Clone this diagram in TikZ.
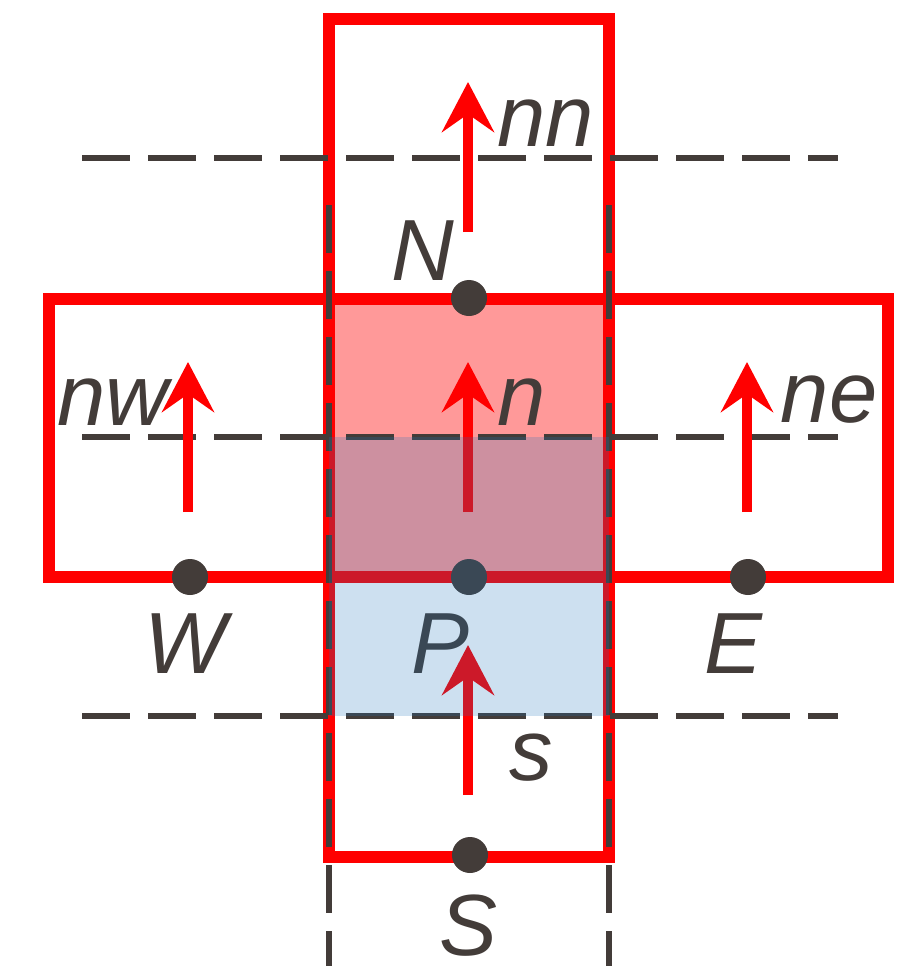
\documentclass[tikz,border=0pt]{standalone}
\usepackage{fontspec}
\setmainfont{Liberation Sans}
\usetikzlibrary{arrows.meta, positioning}

\definecolor{ink}{RGB}{67,60,57}
\definecolor{cellblue}{RGB}{27,116,187}

\begin{document}
\begin{tikzpicture}[
	x=0.01cm,
	y=-0.01cm,
	>={Stealth[length=0.5cm, width=0.52cm, inset=0.18cm]},
	line join=miter
]

\tikzstyle{cellbox} = [draw=red, line width=0.12cm];
\tikzstyle{gridline} = [draw=ink, line width=0.06cm, dash pattern=on 0.48cm off 0.18cm];
\tikzstyle{velocity} = [->, draw=red, line width=0.1cm];
\tikzstyle{nodept} = [circle, fill=ink, inner sep=0pt, minimum size=0.36cm];
\tikzstyle{tag} = [text=ink, inner sep=0pt, font=\fontsize{24.7}{30}\selectfont\itshape];

 \useasboundingbox (0,0) rectangle (909,966);

% v control volume
 \fill [red, opacity=0.4] (329,299) rectangle (609,577);

 \draw [cellbox] (329,19) rectangle (609,857);
 \draw [cellbox] (49,299) rectangle (888,577);

% grid lines
 \draw [gridline] (82,158) -- (838,158);
 \draw [gridline] (82,437) -- (838,437);
 \draw [gridline] (82,716) -- (838,716);
 \draw [gridline] (329,205) -- (329,980);
 \draw [gridline] (609,205) -- (609,980);

% velocities
 \coordinate (nn-tail) at (468,232);  \coordinate (nn-tip) at (468,82);
 \coordinate (n-tail)  at (468,512);  \coordinate (n-tip)  at (468,362);
 \coordinate (nw-tail) at (188,512);  \coordinate (nw-tip) at (188,362);
 \coordinate (ne-tail) at (747,512);  \coordinate (ne-tip) at (747,362);
 \coordinate (s-tail)  at (468,795);  \coordinate (s-tip)  at (468,645);

 \draw [velocity] (nn-tail) -- (nn-tip);
 \draw [velocity] (n-tail)  -- (n-tip);
 \draw [velocity] (nw-tail) -- (nw-tip);
 \draw [velocity] (ne-tail) -- (ne-tip);
 \draw [velocity] (s-tail)  -- (s-tip);

% pressure points
 \node [nodept] (N) at (469,298) {};
 \node [nodept] (P) at (469,577) {};
 \node [nodept] (S) at (470,855) {};
 \node [nodept] (W) at (190,577) {};
 \node [nodept] (E) at (748,577) {};

 \node [tag, anchor=base west] (nn-lab) at (497,146) {nn};
 \node [tag, anchor=base]      (N-lab)  at (423,280) {N};
 \node [tag, anchor=base west] (nw-lab) at (57,425)  {nw};
 \node [tag, anchor=base west] (n-lab)  at (497,425) {n};
 \node [tag, anchor=base west] (ne-lab) at (780,422) {ne};
 \node [tag, anchor=base]      (W-lab)  at (185,673) {W};
 \node [tag, anchor=base]      (P-lab)  at (440,673) {P};
 \node [tag, anchor=base]      (E-lab)  at (733,673) {E};
 \node [tag, anchor=base]      (s-lab)  at (531,780) {s};
 \node [tag, anchor=base]      (S-lab)  at (468,955) {S};

% p control volume
 \fill [cellblue, opacity=0.22] (329,437) rectangle (609,716);

\end{tikzpicture}
\end{document}
